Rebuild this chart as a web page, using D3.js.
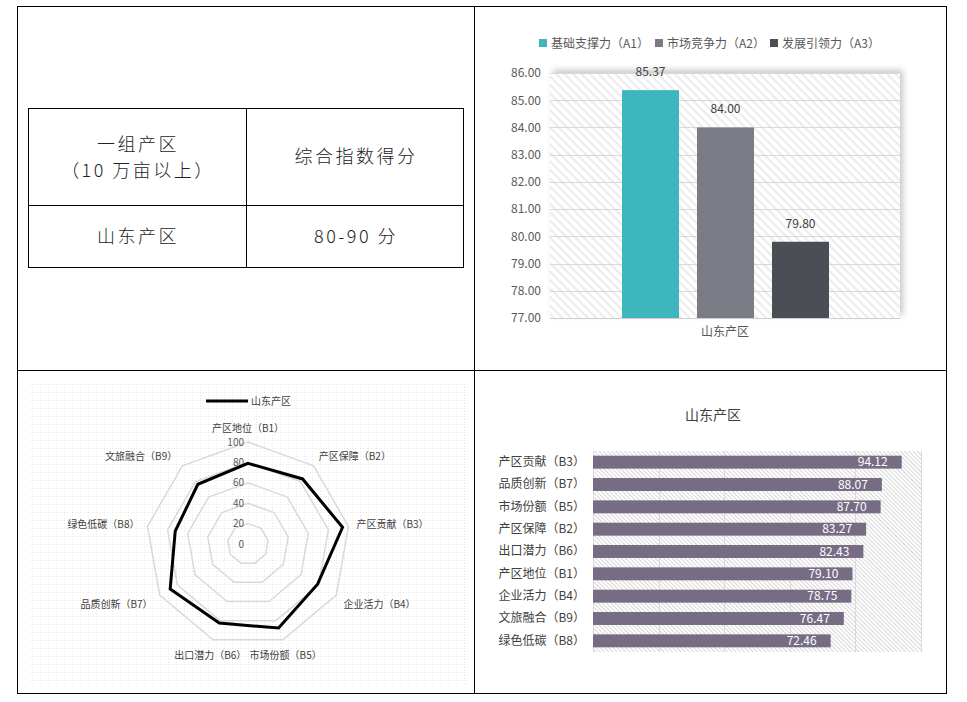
<!DOCTYPE html>
<html>
<head>
<meta charset="utf-8">
<script src="https://cdn.jsdelivr.net/npm/d3@7"></script>
<style>
  body { margin: 0; background: #fff; }
  svg text { font-family: "Noto Sans CJK SC", "Noto Sans", sans-serif; }
</style>
</head>
<body>
<div id="chart"></div>
<script>
// table
const tableHead = [["一组产区", "（10 万亩以上）"], ["综合指数得分"]];
const tableRow = ["山东产区", "80-90 分"];

// top bar chart
const region = "山东产区";
const aSeries = ["基础支撑力（A1）", "市场竞争力（A2）", "发展引领力（A3）"];
const aValues = [85.37, 84.00, 79.80];
const aColors = ["#3db7bd", "#7a7c85", "#4c4e56"];
const aTicks = [77, 78, 79, 80, 81, 82, 83, 84, 85, 86];

// radar
const bLabels = ["产区地位（B1）", "产区保障（B2）", "产区贡献（B3）", "企业活力（B4）", "市场份额（B5）",
                 "出口潜力（B6）", "品质创新（B7）", "绿色低碳（B8）", "文旅融合（B9）"];
const bValues = [79.10, 83.27, 94.12, 78.75, 87.70, 82.43, 88.07, 72.46, 76.47];
const rTicks = [0, 20, 40, 60, 80, 100];

// ranked bars
const hTicks = [0, 20, 40, 60, 80, 100];

const W = 967, H = 702;
const svg = d3.select("#chart").append("svg").attr("width", W).attr("height", H);
const defs = svg.append("defs");

// patterns
const p1 = defs.append("pattern").attr("id", "hatchA").attr("patternUnits", "userSpaceOnUse")
  .attr("width", 6).attr("height", 6).attr("patternTransform", "rotate(45)");
p1.append("rect").attr("width", 6).attr("height", 6).attr("fill", "#fff");
p1.append("rect").attr("width", 6).attr("height", 2.2).attr("fill", "#ececec");

const p2 = defs.append("pattern").attr("id", "hatchB").attr("patternUnits", "userSpaceOnUse")
  .attr("width", 3).attr("height", 3).attr("patternTransform", "rotate(45)");
p2.append("rect").attr("width", 3).attr("height", 3).attr("fill", "#fff");
p2.append("rect").attr("width", 3).attr("height", 1).attr("fill", "#d6d6d6");

const p3 = defs.append("pattern").attr("id", "dots").attr("patternUnits", "userSpaceOnUse")
  .attr("width", 8).attr("height", 8);
for (let i = 0; i < 8; i += 3) {
  p3.append("rect").attr("x", i).attr("y", 0).attr("width", 1).attr("height", 1).attr("fill", "#e6e6e6");
  if (i > 0) p3.append("rect").attr("x", 0).attr("y", i).attr("width", 1).attr("height", 1).attr("fill", "#e6e6e6");
}

const shadow = defs.append("filter").attr("id", "shadow").attr("x", "-10%").attr("y", "-10%")
  .attr("width", "120%").attr("height", "120%");
shadow.append("feDropShadow").attr("dx", 3).attr("dy", -3).attr("stdDeviation", 3)
  .attr("flood-color", "#000").attr("flood-opacity", 0.22);

// outer frame
svg.append("rect").attr("x", 17.5).attr("y", 6.5).attr("width", 929).attr("height", 687)
  .attr("fill", "none").attr("stroke", "#000");
svg.append("line").attr("x1", 474.5).attr("x2", 474.5).attr("y1", 6.5).attr("y2", 693.5).attr("stroke", "#000");
svg.append("line").attr("x1", 17.5).attr("x2", 946.5).attr("y1", 370.5).attr("y2", 370.5).attr("stroke", "#000");

// ---------- table ----------
const tb = svg.append("g");
tb.append("rect").attr("x", 28.5).attr("y", 108.5).attr("width", 435).attr("height", 159)
  .attr("fill", "none").attr("stroke", "#000");
tb.append("line").attr("x1", 246.5).attr("x2", 246.5).attr("y1", 108.5).attr("y2", 267.5).attr("stroke", "#000");
tb.append("line").attr("x1", 28.5).attr("x2", 463.5).attr("y1", 205.5).attr("y2", 205.5).attr("stroke", "#000");
const colC = [138, 356];
tableHead.forEach((lines, i) => {
  const t = tb.append("text").attr("text-anchor", "middle").attr("font-size", 18)
    .attr("font-weight", 300).attr("letter-spacing", 2.5).attr("fill", "#222");
  const y0 = lines.length === 2 ? 151 : 163;
  lines.forEach((s, j) => t.append("tspan").attr("x", colC[i]).attr("y", y0 + j * 26).text(s));
});
tableRow.forEach((s, i) => {
  tb.append("text").attr("x", colC[i]).attr("y", 243).attr("text-anchor", "middle")
    .attr("font-size", 18).attr("font-weight", 300).attr("letter-spacing", 2.5).attr("fill", "#222").text(s);
});

// ---------- top bar chart ----------
const g1 = svg.append("g");
const y1 = d3.scaleLinear().domain([77, 86]).range([318, 73]);
const xc = d3.scaleBand().domain([region]).range([550, 900]);
const xs = d3.scaleBand().domain(aSeries).range([613, 838]).paddingInner(0.24).paddingOuter(0.12);

g1.append("rect").attr("x", 550).attr("y", 73).attr("width", 350).attr("height", 245)
  .attr("fill", "#fff").attr("filter", "url(#shadow)");
g1.append("rect").attr("x", 550).attr("y", 73).attr("width", 350).attr("height", 245)
  .attr("fill", "url(#hatchA)");

g1.selectAll(".grid").data(aTicks).join("line")
  .attr("x1", 550).attr("x2", 900)
  .attr("y1", d => Math.round(y1(d)) + 0.5).attr("y2", d => Math.round(y1(d)) + 0.5)
  .attr("stroke", d => d === 77 ? "#cfcfcf" : "#d9d9d9").attr("stroke-width", 1);

g1.append("g").attr("transform", "translate(545,0)")
  .call(d3.axisLeft(y1).tickValues(aTicks).tickFormat(d3.format(".2f")).tickSize(0).tickPadding(4))
  .call(a => a.select(".domain").remove())
  .selectAll("text").attr("font-size", 12).attr("fill", "#595959")
  .style("font-family", "'Noto Sans CJK SC', sans-serif");

g1.selectAll(".bar").data(aValues).join("rect")
  .attr("x", (d, i) => xs(aSeries[i])).attr("width", xs.bandwidth())
  .attr("y", d => y1(d)).attr("height", d => y1(77) - y1(d))
  .attr("fill", (d, i) => aColors[i]);

g1.selectAll(".val").data(aValues).join("text")
  .attr("x", (d, i) => xs(aSeries[i]) + xs.bandwidth() / 2).attr("y", d => y1(d) - 14)
  .attr("text-anchor", "middle").attr("font-size", 12).attr("fill", "#404040")
  .text(d => d3.format(".2f")(d));

g1.append("g").attr("transform", "translate(0,318)")
  .call(d3.axisBottom(xc).tickSize(0).tickPadding(9))
  .call(a => a.select(".domain").remove())
  .selectAll("text").attr("font-size", 12).attr("fill", "#595959")
  .style("font-family", "'Noto Sans CJK SC', sans-serif");

const legX = [539, 655, 770];
const leg1 = g1.selectAll(".leg").data(aSeries).join("g")
  .attr("transform", (d, i) => `translate(${legX[i]},39)`);
leg1.append("rect").attr("width", 8).attr("height", 8).attr("fill", (d, i) => aColors[i]);
leg1.append("text").attr("x", 12).attr("y", 8.5).attr("font-size", 12).attr("fill", "#595959").text(d => d);

// ---------- radar ----------
const g2 = svg.append("g");
g2.append("rect").attr("x", 28).attr("y", 384).attr("width", 441).attr("height", 300).attr("fill", "url(#dots)");
const cx = 248, cy = 544;
const rr = d3.scaleLinear().domain([0, 100]).range([0, 102]);
const ang = d3.scaleLinear().domain([0, bLabels.length]).range([0, 2 * Math.PI]);
const pt = (i, v) => [cx + rr(v) * Math.sin(ang(i)), cy - rr(v) * Math.cos(ang(i))];

g2.selectAll(".ring").data(rTicks.filter(d => d > 0)).join("polygon")
  .attr("points", d => bLabels.map((_, i) => pt(i, d).join(",")).join(" "))
  .attr("fill", "none").attr("stroke", "#d9d9d9").attr("stroke-width", 1.5);

g2.selectAll(".rt").data(rTicks).join("text")
  .attr("x", cx - 4).attr("y", d => cy - rr(d)).attr("dy", "0.35em")
  .attr("text-anchor", "end").attr("font-size", 10).attr("fill", "#595959").text(d => d);

g2.append("path")
  .datum(bValues)
  .attr("d", d3.line().x((d, i) => pt(i, d)[0]).y((d, i) => pt(i, d)[1]).curve(d3.curveLinearClosed))
  .attr("fill", "none").attr("stroke", "#000").attr("stroke-width", 3).attr("stroke-linejoin", "miter");

g2.selectAll(".lab").data(bLabels).join("text")
  .attr("x", (d, i) => pt(i, 108)[0])
  .attr("y", (d, i) => { const c = Math.cos(ang(i)); return pt(i, 108)[1] - 6 * c + (c < 0 ? 2 : 1); })
  .attr("dy", "0.35em")
  .attr("text-anchor", (d, i) => { const s = Math.sin(ang(i)); return s > 0.5 ? "start" : s < -0.5 ? "end" : "middle"; })
  .attr("font-size", 10).attr("fill", "#404040").text(d => d);

g2.append("line").attr("x1", 206).attr("x2", 248).attr("y1", 401).attr("y2", 401)
  .attr("stroke", "#000").attr("stroke-width", 3);
g2.append("text").attr("x", 251).attr("y", 401).attr("dy", "0.35em").attr("font-size", 10)
  .attr("fill", "#404040").text(region);

// ---------- ranked horizontal bars ----------
const g3 = svg.append("g");
const ranked = d3.sort(bLabels.map((l, i) => ({ label: l, value: bValues[i] })), (a, b) => b.value - a.value);
const hx = d3.scaleLinear().domain([0, 100]).range([593, 921]);
const hy = d3.scaleBand().domain(ranked.map(d => d.label)).range([451, 652]).paddingInner(0.42).paddingOuter(0.21);

g3.append("rect").attr("x", 593).attr("y", 451).attr("width", 328).attr("height", 201).attr("fill", "url(#hatchB)");
g3.selectAll(".vg").data(hTicks).join("line")
  .attr("x1", d => Math.round(hx(d)) + 0.5).attr("x2", d => Math.round(hx(d)) + 0.5)
  .attr("y1", 451).attr("y2", 652).attr("stroke", "#d9d9d9");

g3.selectAll(".hb").data(ranked).join("rect")
  .attr("x", hx(0)).attr("y", d => hy(d.label)).attr("height", hy.bandwidth())
  .attr("width", d => hx(d.value) - hx(0)).attr("fill", "#766c83");

g3.selectAll(".hv").data(ranked).join("text")
  .attr("x", d => hx(d.value) - 14).attr("y", d => hy(d.label) + hy.bandwidth() / 2).attr("dy", "0.36em")
  .attr("text-anchor", "end").attr("font-size", 12).attr("fill", "#fff").text(d => d3.format(".2f")(d.value));

g3.append("g").attr("transform", "translate(591,0)")
  .call(d3.axisLeft(hy).tickSize(0).tickPadding(6))
  .call(a => a.select(".domain").remove())
  .selectAll("text").attr("font-size", 12).attr("fill", "#404040")
  .style("font-family", "'Noto Sans CJK SC', sans-serif");

g3.append("text").attr("x", 713).attr("y", 415).attr("dy", "0.35em").attr("text-anchor", "middle")
  .attr("font-size", 14).attr("fill", "#404040").text(region);
</script>
</body>
</html>
